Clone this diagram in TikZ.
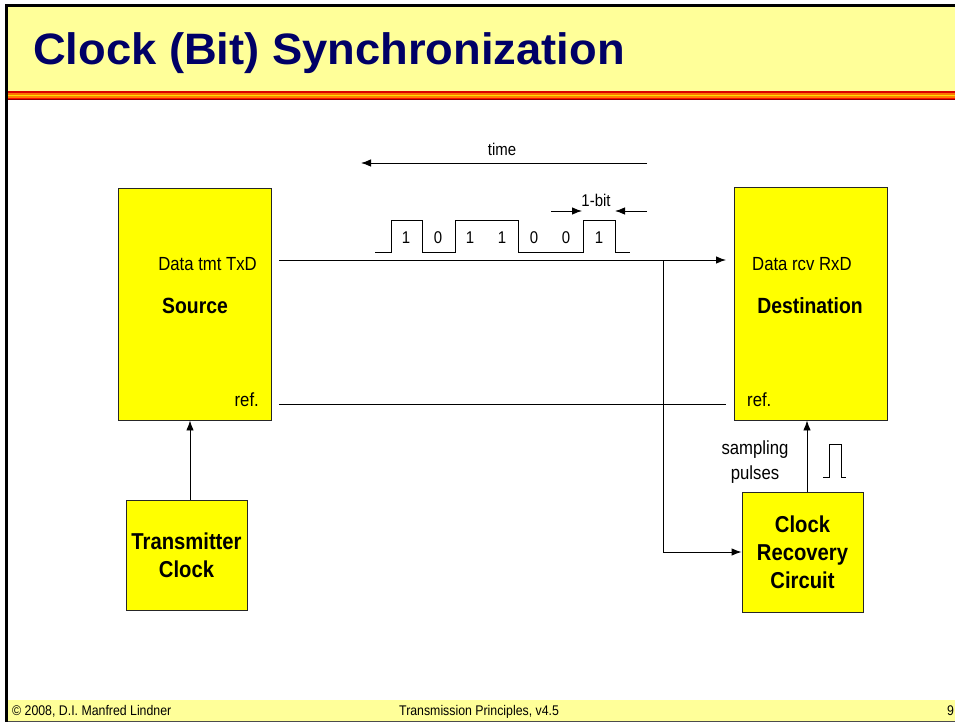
\documentclass[tikz,border=0pt]{standalone}
\usepackage{fontspec}
\setmainfont{Liberation Sans}
\newfontfamily\nf[FakeStretch=0.88]{Liberation Sans}
\newfontfamily\ttlfont[FakeStretch=1.03]{Liberation Sans}
\usetikzlibrary{arrows.meta,calc}
\definecolor{boxyellow}{HTML}{FFFF00}
\definecolor{paleyellow}{HTML}{FFFF99}
\definecolor{titlenavy}{HTML}{000066}
\begin{document}
\begin{tikzpicture}[x=1pt,y=-1pt,
  box/.style={draw=black!85, fill=boxyellow, line width=0.9pt, inner sep=0pt},
  lbl/.style={inner sep=0pt, font=\nf\fontsize{19}{22}\selectfont},
  blbl/.style={inner sep=0pt, font=\nf\bfseries\fontsize{22}{26}\selectfont},
  sig/.style={inner sep=0pt, font=\nf\fontsize{17}{20}\selectfont},
  foot/.style={inner sep=0pt, font=\nf\fontsize{14}{16}\selectfont},
  wire/.style={line width=0.9pt},
  arr/.style={-{Latex[length=10pt,width=7.5pt]}, line width=0.9pt}]
\useasboundingbox (0,0) rectangle (955,722);
\fill[white] (0,0) rectangle (955,722);
% title band
\fill[paleyellow] (8,7) rectangle (955,92);
\fill[red!85!black] (8,91.5) rectangle (955,93.2);
\fill[orange!90!red] (8,93.2) rectangle (955,94.8);
\fill[yellow!80!orange] (8,94.8) rectangle (955,96.4);
\fill[orange] (8,96.4) rectangle (955,97.8);
\fill[red!90!orange] (8,97.8) rectangle (955,99);
\fill[red!55!black] (8,99) rectangle (955,100.2);
% footer
\fill[paleyellow] (8,700) rectangle (955,721);
\draw[black!70, line width=1pt] (8,721.2) -- (955,721.2);
% frame
\fill[black] (5,4) rectangle (8,722);
\fill[black] (5,4) rectangle (955,7);
% title
\node[inner sep=0pt, anchor=base west, text=titlenavy, font=\ttlfont\bfseries\fontsize{44}{50}\selectfont] (title) at (33,65) {Clock (Bit) Synchronization};
% footer texts
\node[foot, anchor=base west] (f1) at (12,715) {\textcopyright{} 2008, D.I. Manfred Lindner};
\node[foot, anchor=base west] (f2) at (399,715) {Transmission Principles, v4.5};
\node[foot, anchor=base west] (f3) at (947,715) {9};
% boxes
\node[box, minimum width=153pt, minimum height=232pt] (src) at (194.5,304) {};
\node[box, minimum width=153pt, minimum height=233pt] (dst) at (810.5,303.5) {};
\node[box, minimum width=121pt, minimum height=110pt, align=center,
      font=\nf\bfseries\fontsize{23}{28}\selectfont] (txclk) at (186.5,555) {Transmitter\\Clock};
\node[box, minimum width=121pt, minimum height=120pt, align=center,
      font=\nf\bfseries\fontsize{23}{28}\selectfont] (crc) at (802.5,552) {Clock\\Recovery\\Circuit};
% box labels
\node[lbl, anchor=base east] (txdl) at (257,270) {Data tmt TxD};
\node[blbl, anchor=base] (srcl) at (195,313) {Source};
\node[lbl, anchor=base east] (refl) at (259,406) {ref.};
\node[lbl, anchor=base west] (rxdl) at (752,270) {Data rcv RxD};
\node[blbl, anchor=base] (dstl) at (810,313) {Destination};
\node[lbl, anchor=base west] (refr) at (747,406) {ref.};
\node[lbl, anchor=base] (samp) at (755,454) {sampling};
\node[lbl, anchor=base] (puls) at (755,479) {pulses};
% connectors
\coordinate (txd) at (279,260);
\coordinate (rxd) at (726,260);
\coordinate (refa) at (279,404);
\coordinate (refb) at (726,404);
\coordinate (branch) at (663,260);
\draw[arr] (txd) -- (rxd);
\draw[wire] (refa) -- (refb);
\draw[arr] (branch) -- (branch |- crc.west) -- (crc.west);
\draw[arr] ($(txclk.north)+(3.5,0)$) -- ($(txclk.north |- src.south)+(3.5,0)$);
\draw[arr] ($(crc.north)+(4.5,0)$) -- ($(crc.north |- dst.south)+(4.5,0)$);
% time arrow
\coordinate (ta) at (647,163);
\coordinate (tb) at (361,163);
\draw[arr] (ta) -- (tb);
\node[sig, anchor=base] (timel) at (502,156) {time};
% 1-bit
\coordinate (ba1) at (551,211);
\coordinate (ba2) at (582,211);
\coordinate (bb1) at (647,211);
\coordinate (bb2) at (615,211);
\draw[arr] (ba1) -- (ba2);
\draw[arr] (bb1) -- (bb2);
\node[sig, anchor=base] (bitl) at (596,206) {1-bit};
% waveform
\draw[line width=0.8pt] (375,252) -- (391,252) -- (391,220) -- (422,220) -- (422,252) -- (455,252) -- (455,220) -- (518,220) -- (518,252) -- (583,252) -- (583,220) -- (615,220) -- (615,252) -- (630,252);
\foreach \x/\b [count=\i] in {406/1,438/0,470/1,502/1,534/0,566/0,599/1}
  \node[sig, anchor=base] (bit\i) at (\x,243) {\b};
% sampling pulse
\draw[line width=0.8pt] (823,477) -- (829,477) -- (829,444) -- (841,444) -- (841,477) -- (846,477);
\end{tikzpicture}
\end{document}
